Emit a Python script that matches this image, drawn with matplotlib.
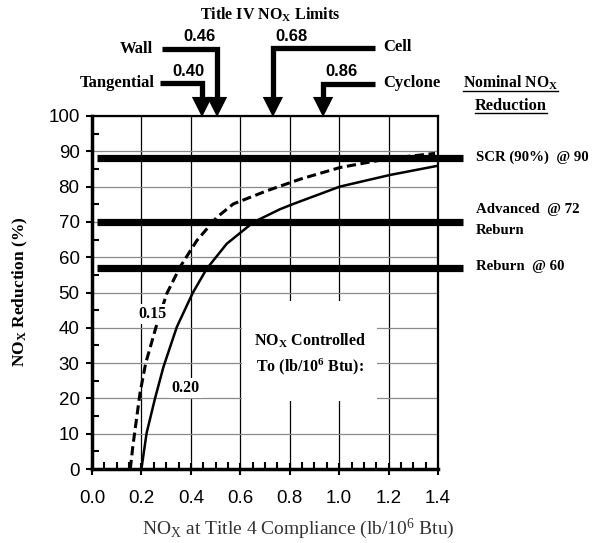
import matplotlib
matplotlib.use("Agg")
import matplotlib.pyplot as plt
import matplotlib.transforms as mtransforms
from matplotlib.patches import Polygon, Rectangle
from matplotlib.lines import Line2D
from matplotlib.ticker import MultipleLocator

plt.rcParams["mathtext.fontset"] = "custom"
plt.rcParams["mathtext.rm"] = "Liberation Serif"
plt.rcParams["mathtext.bf"] = "Liberation Serif:bold"
plt.rcParams["mathtext.it"] = "Liberation Serif:italic"

# NOx controlled to 0.15 lb/10^6 Btu (dashed)
x15 = [0.155, 0.165, 0.194, 0.217, 0.259, 0.302, 0.356, 0.424, 0.505, 0.572, 0.707, 0.842, 1.003, 1.206, 1.388]
y15 = [0.0, 6.3, 21.4, 29.9, 40.2, 49.6, 57.2, 64.7, 71.3, 75.1, 78.8, 82.1, 85.4, 88.0, 89.4]

# NOx controlled to 0.20 lb/10^6 Btu (solid)
x20 = [0.20, 0.221, 0.255, 0.289, 0.343, 0.407, 0.464, 0.545, 0.653, 0.761, 0.815, 1.003, 1.206, 1.399]
y20 = [0.0, 10.2, 20.0, 28.9, 40.2, 49.8, 56.7, 63.8, 69.9, 73.6, 75.1, 80.0, 83.3, 85.9]

# technologies (horizontal bars)
tech_names = ["SCR (90%)", "Advanced\nReburn", "Reburn"]
tech_nominal = [90, 72, 60]
tech_levels = [88, 70, 57]

# Title IV limits by boiler type
boilers = ["Tangential", "Wall", "Cell", "Cyclone"]
limits = [0.40, 0.46, 0.68, 0.86]

W, H = 600, 543
fig = plt.figure(figsize=(W / 100, H / 100), dpi=100)


def fx(px):
    return px / W


def fy(py):
    return 1 - py / H


ax = fig.add_axes([fx(92), fy(469), (438 - 92) / W, (469 - 116) / H])
ax.set_xlim(0, 1.4)
ax.set_ylim(0, 100)
ax.set_axisbelow(True)

ax.xaxis.set_major_locator(MultipleLocator(0.2))
ax.xaxis.set_minor_locator(MultipleLocator(0.05))
ax.yaxis.set_major_locator(MultipleLocator(10))
ax.yaxis.set_minor_locator(MultipleLocator(5))
ax.set_xticklabels([f"{v:.1f}" for v in ax.get_xticks()])
ax.xaxis.grid(True, color="black", lw=0.9)
ax.yaxis.grid(True, color="#8a8a8a", lw=0.9)

ax.tick_params(axis="x", which="major", direction="inout", length=8, width=1.5, pad=11)
ax.tick_params(axis="y", which="major", direction="out", length=4, width=1.5, pad=5)
ax.tick_params(which="minor", direction="in", length=5, width=1.5)
for lab in ax.get_xticklabels() + ax.get_yticklabels():
    lab.set_fontfamily("Liberation Sans")
    lab.set_fontsize(13.5)

for s in ["left", "bottom"]:
    ax.spines[s].set_linewidth(2.5)
for s in ["top", "right"]:
    ax.spines[s].set_linewidth(1.6)

# white box behind the legend text
ax.add_patch(Rectangle((0.608, 19.3), 0.545, 28.4, facecolor="white", edgecolor="none", zorder=1))

ax.plot(x20, y20, color="black", lw=1.8, zorder=2)
ax.plot(x15, y15, color="black", lw=2.2, linestyle=(0, (3, 1.5)), zorder=2)

txtbold = dict(family="Liberation Serif", weight="bold")
ax.text(0.245, 44, "0.15", fontsize=11.5, ha="center", va="center", zorder=3,
        bbox=dict(facecolor="white", edgecolor="none", pad=1.5), **txtbold)
ax.text(0.38, 23, "0.20", fontsize=11.5, ha="center", va="center", zorder=3,
        bbox=dict(facecolor="white", edgecolor="none", pad=1.5), **txtbold)
ax.text(0.882, 36.4, r"NO$_\mathbf{X}$ Controlled", fontsize=11.5, ha="center", va="center", zorder=3, **txtbold)
ax.text(0.882, 29.1, r"To (lb/10$^\mathbf{6}$ Btu):", fontsize=11.5, ha="center", va="center", zorder=3, **txtbold)

# technology bars, running past the right edge
for lvl in tech_levels:
    ax.plot([0.02, 1.5], [lvl, lvl], color="black", lw=5.2, solid_capstyle="butt", clip_on=False, zorder=4)

tech_y = [157, 209, 266]
for name, nom, py in zip(tech_names, tech_nominal, tech_y):
    lines = name.split("\n")
    fig.text(fx(476), fy(py), f"{lines[0]}  @ {nom}", fontsize=10.7, ha="left", va="center", **txtbold)
    if len(lines) > 1:
        fig.text(fx(476), fy(py + 22), lines[1], fontsize=10.7, ha="left", va="center", **txtbold)

t1 = fig.text(fx(463), fy(83), r"Nominal NO$_\mathbf{X}$", fontsize=11.3, ha="left", va="center", **txtbold)
t2 = fig.text(fx(511), fy(106), "Reduction", fontsize=11.8, ha="center", va="center", **txtbold)

# Title IV limit arrows
bt = mtransforms.blended_transform_factory(ax.transData, ax.transAxes)
arrow_x = [0.445, 0.506, 0.732, 0.935]
shaft_from = [0.275, 0.283, 1.145, 1.145]
shaft_y = [1.093, 1.189, 1.192, 1.090]
head_top, half_w = 1.051, 0.041
for xa, xs, ys in zip(arrow_x, shaft_from, shaft_y):
    ax.add_line(Line2D([xs, xa, xa], [ys, ys, head_top], color="black", lw=3.8,
                       solid_joinstyle="miter", solid_capstyle="butt",
                       transform=bt, clip_on=False))
    ax.add_patch(Polygon([(xa - half_w, head_top + 0.003), (xa + half_w, head_top + 0.003), (xa, 0.997)],
                         closed=True, facecolor="black", edgecolor="none", transform=bt, clip_on=False))

sans_bold = dict(family="Liberation Sans", weight="bold", fontsize=12)
name_pos = [(155, 83, "right"), (153, 49, "right"), (383, 47, "left"), (383, 83, "left")]
num_pos = [(188, 71), (200, 36), (291, 36), (341, 72)]
for b, lim, (nx, ny, ha), (vx, vy) in zip(boilers, limits, name_pos, num_pos):
    fig.text(fx(nx), fy(ny), b, fontsize=12, ha=ha, va="center", **txtbold)
    fig.text(fx(vx), fy(vy), f"{lim:.2f}", ha="center", va="center", **sans_bold)

fig.text(fx(270), fy(15), r"Title IV NO$_\mathbf{X}$ Limits", fontsize=11.5, ha="center", va="center", **txtbold)

fig.text(fx(20), fy(292), r"NO$_\mathbf{X}$ Reduction (%)", fontsize=12.5, rotation=90,
         ha="center", va="center", **txtbold)
fig.text(fx(298), fy(529), r"NO$_\mathrm{X}$ at Title 4 Compliance (lb/10$^\mathrm{6}$ Btu)",
         fontsize=14, family="Liberation Serif", color="#333333", ha="center", va="center")

# underline the nominal reduction header
fig.canvas.draw()
for t in [t1, t2]:
    bb = t.get_window_extent().transformed(fig.transFigure.inverted())
    fig.add_artist(Line2D([bb.x0, bb.x1], [bb.y0 + 0.002, bb.y0 + 0.002], color="black", lw=1.0,
                          transform=fig.transFigure))

fig.savefig("out.png", dpi=100)
